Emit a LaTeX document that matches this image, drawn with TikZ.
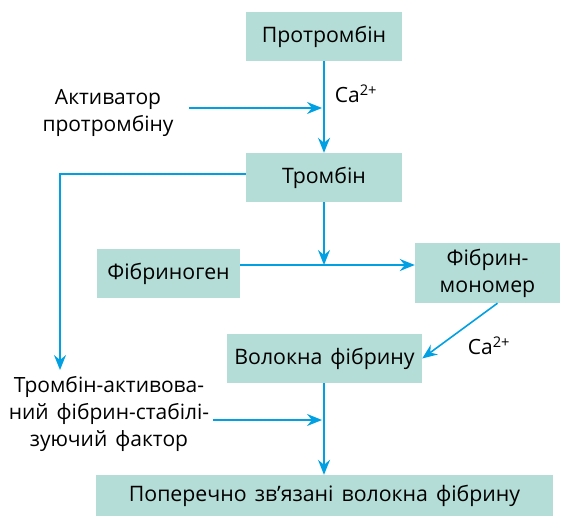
\documentclass[tikz,border=0pt]{standalone}
\usepackage{fontspec}
\setmainfont{Open Sans}
\usetikzlibrary{positioning,arrows.meta}
\definecolor{boxfill}{HTML}{B3DDD6}
\definecolor{flowblue}{HTML}{00A0E3}
\newcommand{\widespace}{\spaceskip=8pt plus 2pt\relax}
\tikzset{
  stage/.style={fill=boxfill, inner sep=0pt, align=center, font=\fontsize{21.3}{27}\selectfont\widespace},
  note/.style={inner sep=0pt, align=center, font=\fontsize{21}{27}\selectfont\widespace},
  ion/.style={inner sep=0pt, font=\fontsize{21}{24}\selectfont},
  flow/.style={-{Stealth[length=15pt,width=12pt,inset=5pt]}, flowblue, line width=1.6pt}
}
\begin{document}
\begin{tikzpicture}[x=1pt,y=-1pt]
\useasboundingbox (0,0) rectangle (567,516);
% boxes
\node[stage, minimum width=156pt, minimum height=49pt] (protrombin) at (324,36.5) {Протромбін};
\node[stage, minimum width=156pt, minimum height=49pt] (trombin) at (324,177.5) {Тромбін};
\node[stage, minimum width=143pt, minimum height=49pt] (fibrinogen) at (168.5,273.5) {Фібриноген};
\node[stage, minimum width=145pt, minimum height=60pt] (monomer) at (487.5,273) {Фібрин-\\мономер};
\node[stage, minimum width=195pt, minimum height=49pt] (volokna) at (324.5,358.5) {Волокна фібрину};
\node[stage, minimum width=457pt, minimum height=41pt] (poperechno) at (324.5,495.5) {Поперечно зв’язані волокна фібрину};
% free texts
\node[note] (activator) at (108,112.5) {Активатор\\протромбіну};
\node[note] (factor) at (109,414) {Тромбін-активова-\\ний фібрин-стабілі-\\зуючий фактор};
\node[ion] (ca1) at (356,94) {Ca\textsuperscript{2+}};
\node[ion] (ca2) at (489,346) {Ca\textsuperscript{2+}};
% helper points
\coordinate (actstart) at (189,108);
\coordinate (actend) at (322,108);
\coordinate (meet) at (324,265);
\coordinate (fdrop) at (60,370);
\coordinate (fstart) at (213,420);
\coordinate (fend) at (322,420);
% arrows
\draw[flow] (protrombin) -- (trombin);
\draw[flow] (actstart) -- (actend);
\draw[flow] ([yshift=3.5pt]trombin.west) -| (fdrop);
\draw[flow] (trombin) -- (meet);
\draw[flow] ([yshift=8.5pt]fibrinogen.east) -- ([yshift=8.5pt]fibrinogen.east -| monomer.west);
\draw[flow] ([xshift=10pt]monomer.south) -- (volokna.east);
\draw[flow] (fstart) -- (fend);
\draw[flow] (volokna.south -| trombin.south) -- (poperechno.north -| trombin.south);
\end{tikzpicture}
\end{document}
